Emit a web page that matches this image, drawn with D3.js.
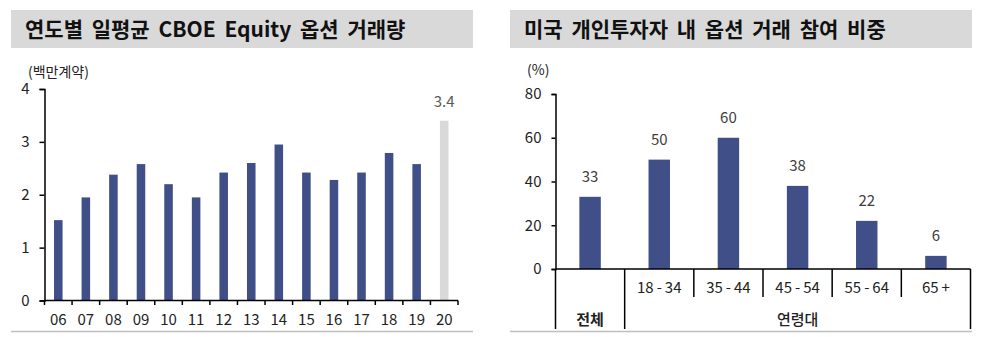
<!DOCTYPE html>
<html><head><meta charset="utf-8">
<script src="https://cdn.jsdelivr.net/npm/d3@7"></script>
<style>
body{margin:0;background:#fff;}
svg{display:block;}
text{font-family:"Noto Sans CJK KR","Noto Sans",sans-serif;}
</style></head>
<body>
<svg id="c" width="1000" height="337"></svg>
<script>
// ---- data ----
const years = ["06","07","08","09","10","11","12","13","14","15","16","17","18","19","20"];
const volumes = [1.52,1.95,2.38,2.58,2.2,1.95,2.42,2.6,2.95,2.42,2.28,2.42,2.79,2.58,3.4];
const volumeTicks = [0,1,2,3,4];
const highlightYear = "20";
const highlightLabel = "3.4";

const groups = ["전체","18-34","35-44","45-54","55-64","65+"];
const shares = [33,50,60,38,22,6];
const shareTicks = [0,20,40,60,80];
const superGroups = [{name:"전체", from:0, to:0},{name:"연령대", from:1, to:5}];

const titleLeft = "연도별 일평균 CBOE Equity 옵션 거래량";
const titleRight = "미국 개인투자자 내 옵션 거래 참여 비중";
const unitLeft = "(백만계약)";
const unitRight = "(%)";

const BAR = "#404f87", HL = "#d9d9d9", TXT = "#222", LBL = "#404040";
const svg = d3.select("#c");

function titleBox(x0, x1, text){
  svg.append("rect").attr("x",x0).attr("y",10).attr("width",x1-x0).attr("height",38).attr("fill","#d9d9d9");
  svg.append("text").attr("x",x0+14).attr("y",37).attr("font-size",21).attr("font-weight",700)
    .attr("word-spacing",4).attr("fill","#111").text(text);
  svg.append("line").attr("x1",x0).attr("x2",x1).attr("y1",331.5).attr("y2",331.5).attr("stroke","#bfbfbf").attr("stroke-width",1.5);
}

// ---- left chart ----
titleBox(11, 473, titleLeft);
{
  const x = d3.scaleBand().domain(years).range([44.5,458]).paddingInner(0.69).paddingOuter(0.345);
  const xb = d3.scaleBand().domain(years).range([44.5,458]);
  const y = d3.scaleLinear().domain([0,4]).range([300.5,89]);
  svg.append("text").attr("x",28).attr("y",77).attr("font-size",14).attr("fill",TXT).text(unitLeft);
  const ya = svg.append("g").attr("transform","translate(44.5,0)")
    .call(d3.axisLeft(y).tickValues(volumeTicks).tickSize(5).tickPadding(10).tickFormat(d3.format("d")));
  ya.select(".domain").attr("stroke","#000").attr("stroke-width",1.5);
  ya.selectAll(".tick line").attr("stroke","#000").attr("stroke-width",1.5);
  ya.selectAll(".tick text").attr("font-size",15).attr("fill",TXT).attr("font-family","'Liberation Sans',sans-serif");

  svg.append("g").selectAll("rect").data(years).join("rect")
    .attr("x",d=>x(d)).attr("width",x.bandwidth())
    .attr("y",(d,i)=>y(volumes[i])).attr("height",(d,i)=>y(0)-y(volumes[i]))
    .attr("fill",d=>d===highlightYear?HL:BAR);

  const xa = svg.append("g").attr("transform","translate(0,300.5)")
    .call(d3.axisBottom(xb).tickSize(0).tickPadding(14));
  xa.select(".domain").attr("stroke","#000").attr("stroke-width",1.5).attr("d","M44.5,0H458");
  xa.selectAll(".tick text").attr("font-size",15).attr("fill",TXT).attr("font-family","'Liberation Sans',sans-serif");
  // boundary ticks
  const bounds = years.map(d=>xb(d)).concat([xb.range()[1]]);
  svg.append("g").selectAll("line").data(bounds).join("line")
    .attr("x1",d=>d).attr("x2",d=>d).attr("y1",300.5).attr("y2",305)
    .attr("stroke","#000").attr("stroke-width",1.5);
  // highlight label
  const hi = years.indexOf(highlightYear);
  svg.append("text").attr("x",x(highlightYear)+x.bandwidth()/2).attr("y",y(volumes[hi])-14)
    .attr("text-anchor","middle").attr("font-size",15).attr("fill","#595959")
    .attr("font-family","'Liberation Sans',sans-serif").text(highlightLabel);
}

// ---- right chart ----
titleBox(510, 972, titleRight);
{
  const xb = d3.scaleBand().domain(groups).range([555.5,970.5]);
  const x = d3.scaleBand().domain(groups).range([555.5,970.5]).paddingInner(0.69).paddingOuter(0.345);
  const y = d3.scaleLinear().domain([0,80]).range([269,94]);
  svg.append("text").attr("x",527).attr("y",75).attr("font-size",14).attr("fill",TXT)
    .attr("font-family","'Liberation Sans',sans-serif").text(unitRight);
  const ya = svg.append("g").attr("transform","translate(555.5,0)")
    .call(d3.axisLeft(y).tickValues(shareTicks).tickSize(4).tickPadding(10).tickFormat(d3.format("d")));
  ya.select(".domain").attr("stroke","#000").attr("stroke-width",1.5);
  ya.selectAll(".tick line").attr("stroke","#000").attr("stroke-width",1.5);
  ya.selectAll(".tick text").attr("font-size",15).attr("fill",TXT).attr("font-family","'Liberation Sans',sans-serif");

  svg.append("g").selectAll("rect").data(groups).join("rect")
    .attr("x",d=>x(d)).attr("width",x.bandwidth())
    .attr("y",(d,i)=>y(shares[i])).attr("height",(d,i)=>y(0)-y(shares[i]))
    .attr("fill",BAR);
  svg.append("g").selectAll("text").data(groups).join("text")
    .attr("x",d=>x(d)+x.bandwidth()/2).attr("y",(d,i)=>y(shares[i])-15)
    .attr("text-anchor","middle").attr("font-size",15).attr("fill",LBL)
    .attr("font-family","'Liberation Sans',sans-serif").text((d,i)=>shares[i]);

  svg.append("line").attr("x1",555.5).attr("x2",970.5).attr("y1",269).attr("y2",269)
    .attr("stroke","#000").attr("stroke-width",1.5);
  // category labels (age groups)
  svg.append("g").selectAll("text").data(groups.slice(1)).join("text")
    .attr("x",d=>xb(d)+xb.bandwidth()/2).attr("y",293)
    .attr("text-anchor","middle").attr("font-size",15).attr("fill",TXT)
    .attr("font-family","'Liberation Sans',sans-serif").text(d=>d.replace("-"," - ").replace("+"," +").replace(/ /g,"\u2009"));
  // separators
  const bounds = groups.map(d=>xb(d)).concat([xb.range()[1]]);
  const outer = new Set([0,1,groups.length]);
  svg.append("g").selectAll("line").data(bounds).join("line")
    .attr("x1",d=>d).attr("x2",d=>d).attr("y1",269)
    .attr("y2",(d,i)=>outer.has(i)?329:297)
    .attr("stroke","#000").attr("stroke-width",1.5);
  // super groups
  svg.append("g").selectAll("text").data(superGroups).join("text")
    .attr("x",d=>(xb(groups[d.from])+xb(groups[d.to])+xb.bandwidth())/2).attr("y",325)
    .attr("text-anchor","middle").attr("font-size",15).attr("fill",TXT)
    .attr("font-weight",(d,i)=>i===0?700:500).text(d=>d.name);
}
</script>
</body></html>
